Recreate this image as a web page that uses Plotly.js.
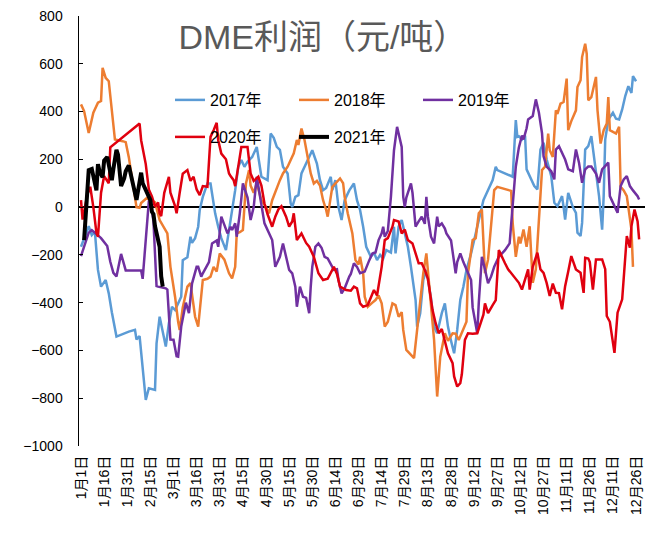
<!DOCTYPE html>
<html>
<head>
<meta charset="utf-8">
<script src="https://cdn.plot.ly/plotly-3.0.1.min.js"></script>
<style>html,body{margin:0;padding:0;background:#fff;}#chart{width:663px;height:538px;}</style>
</head>
<body>
<div id="chart"></div>
<script>
// Day-of-year (base year 2020, leap) for each observation, and profit values (元/吨)
const tickDays = [1,16,31,46,61,76,91,106,121,136,151,166,181,196,211,226,241,256,271,286,301,316,331,346,361];
const tickLabels = ["1月1日","1月16日","1月31日","2月15日","3月1日","3月16日","3月31日","4月15日","4月30日","5月15日","5月30日","6月14日","6月29日","7月14日","7月29日","8月13日","8月28日","9月12日","9月27日","10月12日","10月27日","11月11日","11月26日","12月11日","12月26日"];

const days2017 = [1,4,6,8,10,12,14,17,19,21,24,32,36,37,39,43,45,49,50,52,56,58,60,62,64,66,67,70,72,73,75,77,78,80,83,85,86,88,90,92,95,97,99,101,103,105,107,109,112,115,118,122,124,126,128,130,132,135,137,138,140,142,144,147,151,154,156,158,160,163,164,166,168,170,172,175,178,180,182,184,186,189,191,193,195,197,199,202,204,205,207,209,211,213,215,218,219,221,223,225,228,230,232,235,237,239,241,243,245,247,249,251,254,256,258,260,262,264,268,270,271,281,283,284,285,287,289,290,292,295,297,299,301,303,306,308,310,311,313,314,315,317,320,322,323,325,326,328,330,332,335,337,339,340,341,343,346,348,350,352,354,356,358,359,361];
const vals2017 = [-166,-117,-80,-117,-103,-263,-333,-305,-361,-440,-542,-521,-514,-554,-540,-807,-758,-765,-570,-459,-584,-486,-417,-431,-403,-375,-222,-210,-124,-150,-130,-82,-12,43,99,99,57,-26,-82,-130,-180,-96,-26,71,169,197,169,190,210,252,127,113,308,290,252,240,169,141,15,0,43,50,141,180,238,182,113,71,80,127,71,113,0,-54,29,70,99,29,-12,-82,-166,-208,-190,-222,-200,-215,-180,-190,-82,-194,-82,-54,-110,-166,-250,-389,-500,-444,-305,-263,-380,-500,-528,-444,-403,-500,-560,-612,-514,-389,-333,-263,-194,-138,-80,-26,29,57,113,169,155,127,364,294,297,283,300,158,130,88,74,241,269,200,130,18,4,20,46,0,-52,60,0,-24,-107,-121,-66,241,255,297,144,46,-94,46,283,367,395,370,367,409,465,506,478,548,527];

const days2018 = [1,3,6,9,12,14,15,17,19,21,23,28,30,32,35,37,39,40,44,49,52,57,59,62,64,65,67,70,72,75,77,80,83,85,87,89,91,94,97,99,101,102,104,106,108,110,111,113,115,118,120,123,125,128,130,132,135,137,139,141,142,144,146,148,150,152,154,156,158,160,161,164,166,169,171,172,174,177,179,181,182,184,185,187,190,192,194,196,198,200,203,205,207,209,210,212,217,219,221,223,225,227,230,232,234,237,239,242,244,246,249,251,252,255,257,259,261,262,263,265,267,269,271,278,280,281,283,285,286,288,290,292,294,296,298,300,302,304,305,307,309,310,312,314,316,317,319,322,323,325,326,328,329,330,332,335,336,338,340,342,343,344,348,350,351,353,355,357,358,359];
const vals2018 = [430,402,310,395,437,444,583,541,527,409,283,276,272,209,71,0,-3,17,40,20,-54,-110,-250,-375,-480,-515,-420,-333,-318,-459,-500,-305,-300,-291,-250,-270,-194,-220,-277,-298,-250,-110,-105,-96,99,155,90,60,100,29,10,-26,29,85,113,141,169,197,225,281,260,329,280,210,141,99,110,90,29,-12,-40,85,100,120,100,43,-26,-110,-222,-240,-208,-277,-375,-417,-400,-389,-370,-403,-500,-480,-403,-410,-459,-440,-514,-598,-632,-514,-420,-277,-194,-347,-556,-793,-626,-528,-560,-528,-530,-556,-514,-480,-277,-138,-130,-26,-10,-138,-277,-220,-80,71,85,71,68,-68,-208,-124,-152,-94,-166,-80,-317,-260,-40,155,170,308,238,210,405,390,433,440,538,322,360,405,503,531,628,684,642,447,460,545,405,266,322,350,461,322,308,336,85,70,46,-40,-94,-250];

const days2019 = [1,3,6,8,10,14,18,20,22,24,27,30,40,41,45,46,48,50,51,56,57,59,61,63,64,66,69,71,73,76,77,79,80,84,86,89,90,92,96,98,99,101,102,104,106,109,111,113,115,118,120,125,127,130,132,136,138,140,141,143,145,147,149,150,151,153,155,157,159,161,165,167,168,170,172,175,176,178,180,182,185,188,190,192,194,196,197,198,200,202,204,206,209,210,211,212,213,215,216,218,220,222,224,225,226,228,230,232,233,235,237,238,241,243,244,245,247,249,251,254,255,258,259,261,263,265,267,269,272,276,279,281,283,285,287,288,290,291,294,296,298,300,301,303,306,308,309,311,313,315,317,320,322,324,326,328,330,332,335,337,339,341,343,344,347,349,351,353,355,357,359,362,363];
const vals2019 = [-205,-163,-107,-96,-107,-130,-163,-229,-275,-290,-196,-265,-265,-300,25,29,-60,-331,-333,-340,-345,-554,-555,-624,-626,-500,-400,-444,-320,-250,-250,-291,-277,-230,-152,-140,-166,-40,-110,-82,-96,-68,-124,-26,99,40,-54,0,127,0,-68,-138,-250,-208,-152,-263,-277,-333,-417,-333,-375,-380,-444,-333,-250,-166,-152,-170,-208,-215,-263,-260,-305,-361,-340,-291,-280,-235,-250,-277,-270,-222,-194,-190,-138,-110,-82,-124,-100,43,238,336,252,43,0,40,57,99,60,-82,-60,-40,-70,43,-40,-124,-152,-40,-80,-68,-90,-110,-140,-222,-277,-230,-194,-230,-263,-305,-420,-528,-400,-208,-260,-319,-290,-250,-208,-180,-152,0,169,250,300,283,330,367,381,451,395,310,213,170,150,116,241,255,230,199,158,150,241,186,102,158,170,170,140,102,158,170,186,46,4,-24,88,116,130,88,70,46,32];

const days2020 = [1,2,3,5,7,9,11,12,14,16,19,20,39,40,43,45,47,49,51,52,53,55,58,59,62,63,65,67,70,71,72,74,76,78,80,83,84,85,87,88,89,90,92,95,97,98,100,101,103,105,109,111,113,115,116,118,120,122,125,127,129,131,134,136,138,139,141,144,147,149,152,155,158,161,163,165,167,168,169,173,176,178,180,182,184,187,191,193,194,196,198,200,203,204,207,209,211,213,216,218,220,222,224,226,229,231,233,235,237,239,242,243,245,247,248,250,252,255,258,260,262,263,265,268,270,272,274,276,278,280,283,285,287,289,291,292,294,297,299,301,303,305,307,309,311,313,315,317,319,322,325,327,328,330,331,333,335,339,341,342,344,347,349,352,354,355,357,358,360,362,363];
const vals2020 = [29,-52,-20,50,85,0,-107,-124,60,130,100,250,350,280,180,74,45,1,20,-26,-38,60,127,60,4,-26,60,140,155,127,110,127,74,50,88,85,197,294,322,340,353,280,224,200,141,130,113,88,180,252,252,141,110,120,127,90,15,-30,-82,-40,-10,4,-40,-82,-60,-26,-138,-110,-150,-166,-208,-277,-305,-300,-277,-250,-280,-305,-333,-347,-350,-333,-340,-403,-417,-410,-347,-370,-333,-250,-138,-130,-82,-54,-60,-110,-94,-138,-152,-194,-235,-235,-263,-300,-431,-486,-528,-510,-556,-612,-653,-709,-751,-737,-700,-556,-528,-530,-528,-486,-450,-403,-444,-410,-389,-180,-210,-235,-260,-277,-303,-317,-345,-300,-261,-345,-250,-191,-261,-275,-317,-372,-320,-359,-360,-428,-331,-270,-205,-261,-275,-359,-212,-215,-230,-345,-219,-219,-260,-456,-480,-610,-442,-386,-177,-121,-170,-80,-10,-60,-135];

const days2021 = [3,4,5,6,8,9,11,12,13,15,16,18,19,21,22,24,25,27,29,30,32,33,35,37,39,40,41,43,45,46,47,48,49,50,51,52,53,54];
const vals2021 = [-138,-40,40,155,160,130,70,180,150,125,195,210,180,113,160,240,220,88,120,150,175,150,88,30,120,144,100,70,50,29,-20,-30,-80,-110,-140,-166,-290,-333];

const seriesNames = ["2017年","2018年","2019年","2020年","2021年"];
const seriesColors = ["#5B9BD5","#ED7D31","#7030A0","#E0000F","#000000"];

const FONT = 'Arial, "Liberation Sans", "Noto Sans CJK SC", sans-serif';
const xs = [days2017, days2018, days2019, days2020, days2021];
const ys = [vals2017, vals2018, vals2019, vals2020, vals2021];

const traces = seriesNames.map((name, i) => ({
  type: 'scatter', mode: 'lines', name: name,
  x: xs[i], y: ys[i],
  line: {color: seriesColors[i], width: i === 4 ? 4 : 2.5},
  legend: i < 3 ? 'legend' : 'legend2'
}));

const legendCommon = {
  orientation: 'h', xref: 'paper', yref: 'paper',
  xanchor: 'left', yanchor: 'middle',
  bgcolor: 'rgba(0,0,0,0)', borderwidth: 0,
  font: {family: FONT, size: 16, color: '#000'},
  entrywidth: 79, entrywidthmode: 'pixels', itemclick: false, itemdoubleclick: false
};

const layout = {
  width: 663, height: 538,
  margin: {l: 79, r: 18, t: 16, b: 92},
  paper_bgcolor: '#fff', plot_bgcolor: '#fff',
  font: {family: FONT, color: '#000'},
  showlegend: true,
  title: {
    text: 'DME利润（元/吨）',
    font: {family: FONT, size: 34, color: '#595959'},
    x: 0.487, xanchor: 'center', y: 0.931, yanchor: 'middle'
  },
  xaxis: {
    range: [-0.3, 366.8], automargin: false,
    tickmode: 'array', tickvals: tickDays, ticktext: tickLabels,
    tickangle: -90, tickfont: {family: FONT, size: 14, color: '#000'},
    showgrid: false, zeroline: false, showline: false, ticks: '',
    ticklabelstandoff: 6
  },
  yaxis: {
    range: [-1000, 800], dtick: 200, tick0: 0, automargin: false,
    tickfont: {family: FONT, size: 14, color: '#000'},
    showgrid: false,
    zeroline: true, zerolinecolor: '#000', zerolinewidth: 1.5,
    showline: true, linecolor: '#000', linewidth: 1.5,
    ticks: 'inside', ticklen: 4, tickcolor: '#000', tickwidth: 1,
    ticklabelstandoff: 12
  },
  legend: Object.assign({}, legendCommon, {x: (170-79)/566, y: (446-100)/430}),
  legend2: Object.assign({}, legendCommon, {x: (170-79)/566, y: (446-137)/430})
};

Plotly.newPlot('chart', traces, layout, {staticPlot: true, displayModeBar: false});
</script>
</body>
</html>
